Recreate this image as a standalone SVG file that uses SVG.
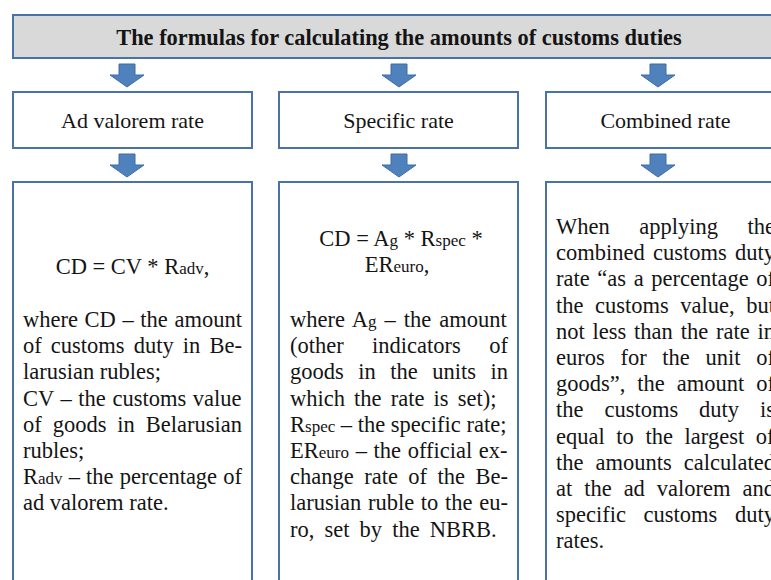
<svg xmlns="http://www.w3.org/2000/svg" width="771" height="580" viewBox="0 0 771 580">
<style>
.box{fill:#fff;stroke:#4a72a6;stroke-width:2}
.ttl{fill:#d9d9d9;stroke:#4a72a6;stroke-width:2}
text{font-family:"Liberation Serif","Times New Roman",serif;fill:#141414}
.t{font-size:22.4px;font-weight:bold;text-anchor:middle}
.h{font-size:22px;text-anchor:middle}
.b{font-size:22.5px}
.c{text-anchor:middle}
.s{font-size:17px}
.arr{fill:#4f81bd;stroke:#3d6ca3;stroke-width:1}
</style>
<defs>
<path id="arrow" d="M-8,0 H8 V11 H17 L0,23 L-17,11 H-8 Z"/>
</defs>
<rect width="771" height="580" fill="#fff"/>

<g id="title">
<rect class="ttl" x="13" y="15" width="772" height="43"/>
<text class="t" x="399" y="45">The formulas for calculating the amounts of customs duties</text>
</g>

<g id="connectors">
<use href="#arrow" class="arr" x="127" y="64"/>
<use href="#arrow" class="arr" x="399" y="64"/>
<use href="#arrow" class="arr" x="658" y="64"/>
<use href="#arrow" class="arr" x="127" y="154"/>
<use href="#arrow" class="arr" x="399" y="154"/>
<use href="#arrow" class="arr" x="658" y="154"/>
</g>

<g id="ad-valorem-rate">
<rect class="box" x="13" y="92" width="239" height="56"/>
<text class="h" x="132.5" y="128">Ad valorem rate</text>
</g>
<g id="specific-rate">
<rect class="box" x="279" y="92" width="239" height="56"/>
<text class="h" x="398.5" y="128">Specific rate</text>
</g>
<g id="combined-rate">
<rect class="box" x="546" y="92" width="239" height="56"/>
<text class="h" x="665.5" y="128">Combined rate</text>
</g>

<g id="ad-valorem-formula">
<rect class="box" x="13" y="182" width="239" height="420"/>
<text class="b c" x="132.5" y="274">CD = CV * R<tspan class="s">adv</tspan>,</text>
<text class="b" x="23" y="327" word-spacing="1">where CD – the amount</text>
<text class="b" x="23" y="353.2" word-spacing="3.5">of customs duty in Be-</text>
<text class="b" x="23" y="379.4">larusian rubles;</text>
<text class="b" x="23" y="405.6" word-spacing="1">CV – the customs value</text>
<text class="b" x="23" y="431.8" word-spacing="5.3">of goods in Belarusian</text>
<text class="b" x="23" y="458">rubles;</text>
<text class="b" x="23" y="484.2" word-spacing="0.5">R<tspan class="s">adv</tspan> – the percentage of</text>
<text class="b" x="23" y="510.4">ad valorem rate.</text>
</g>

<g id="specific-formula">
<rect class="box" x="279" y="182" width="239" height="420"/>
<text class="b c" x="401" y="246">CD = A<tspan class="s">g</tspan> * R<tspan class="s">spec</tspan> *</text>
<text class="b c" x="397" y="272">ER<tspan class="s">euro</tspan>,</text>
<text class="b" x="290" y="327" word-spacing="2.38">where A<tspan class="s">g</tspan> – the amount</text>
<text class="b" x="290" y="353.2" word-spacing="22.77">(other indicators of</text>
<text class="b" x="290" y="379.4" word-spacing="8.87">goods in the units in</text>
<text class="b" x="290" y="405.6" word-spacing="3.5">which the rate is set);</text>
<text class="b" x="290" y="431.8">R<tspan class="s">spec</tspan> – the specific rate;</text>
<text class="b" x="290" y="458" word-spacing="1.02">ER<tspan class="s">euro</tspan> – the official ex-</text>
<text class="b" x="290" y="484.2" word-spacing="4.83">change rate of the Be-</text>
<text class="b" x="290" y="510.4" word-spacing="1.07">larusian ruble to the eu-</text>
<text class="b" x="290" y="536.6" word-spacing="4.5">ro, set by the NBRB.</text>
</g>

<g id="combined-formula">
<rect class="box" x="546" y="182" width="239" height="420"/>
<text class="b" x="556" y="234" word-spacing="23.9">When applying the</text>
<text class="b" x="556" y="260.2" word-spacing="2.6">combined customs duty</text>
<text class="b" x="556" y="286.4" word-spacing="1.97">rate “as a percentage of</text>
<text class="b" x="556" y="312.6" word-spacing="5.93">the customs value, but</text>
<text class="b" x="556" y="338.8" word-spacing="2.18">not less than the rate in</text>
<text class="b" x="556" y="365" word-spacing="10.07">euros for the unit of</text>
<text class="b" x="556" y="391.2" word-spacing="6.33">goods”, the amount of</text>
<text class="b" x="556" y="417.4" word-spacing="15.3">the customs duty is</text>
<text class="b" x="556" y="443.6" word-spacing="6">equal to the largest of</text>
<text class="b" x="556" y="469.8" word-spacing="6.4">the amounts calculated</text>
<text class="b" x="556" y="496" word-spacing="6.33">at the ad valorem and</text>
<text class="b" x="556" y="522.2" word-spacing="12">specific customs duty</text>
<text class="b" x="556" y="548.4">rates.</text>
</g>
</svg>
